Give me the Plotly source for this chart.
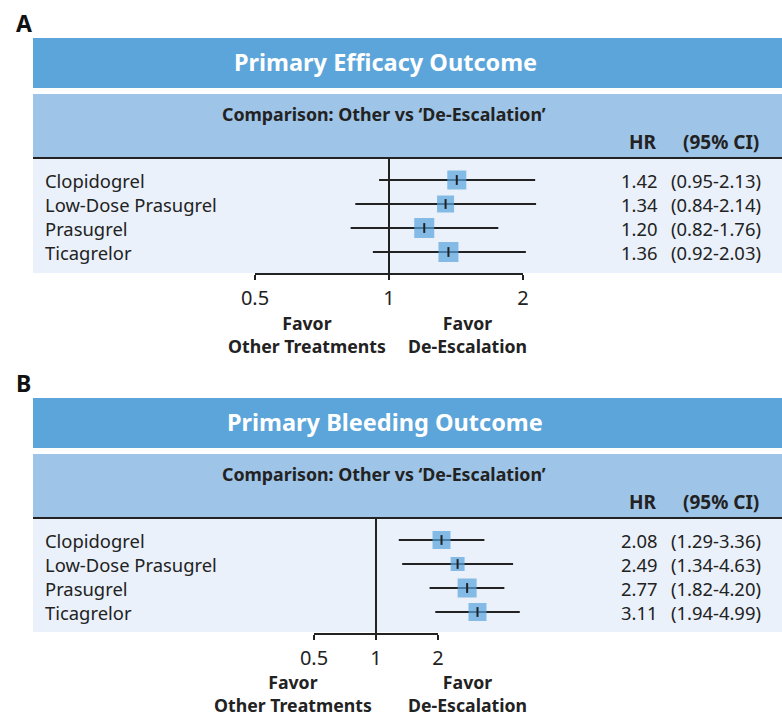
import math
import plotly.graph_objects as go

# ---------------- data ----------------
drugs = ["Clopidogrel", "Low-Dose Prasugrel", "Prasugrel", "Ticagrelor"]

eff_hr = [1.42, 1.34, 1.20, 1.36]
eff_lo = [0.95, 0.84, 0.82, 0.92]
eff_hi = [2.13, 2.14, 1.76, 2.03]

bleed_hr = [2.08, 2.49, 2.77, 3.11]
bleed_lo = [1.29, 1.34, 1.82, 1.94]
bleed_hi = [3.36, 4.63, 4.20, 4.99]

tick_vals = [0.5, 1, 2]
tick_text = ["0.5", "1", "2"]

panel_titles = ["Primary Efficacy Outcome", "Primary Bleeding Outcome"]
panel_letters = ["A", "B"]
comparison_text = "Comparison: Other vs \u2018De-Escalation\u2019"
favor_left = "Favor<br>Other Treatments"
favor_right = "Favor<br>De-Escalation"

# ---------------- style ----------------
W, H = 782, 717
FONT = "Noto Sans"
DARK = "#222222"
C_TITLE = "rgb(91,165,218)"
C_SUB = "rgb(158,196,231)"
C_BG = "rgb(234,241,250)"
C_SQ = "rgb(88,164,221)"

eff_sizes = [19, 17, 20, 20]
bleed_sizes = [18, 14, 19, 18]


def py(p):
    return 1 - p / H


def px(p):
    return p / W


panels = [
    dict(hr=eff_hr, lo=eff_lo, hi=eff_hi, sizes=eff_sizes, top=38,
         x1=389, x2=523, rows_top=158, axis_y=274, bg_bottom=273,
         favL=307, favR=467, fav_y=334, xa="x", ya="y"),
    dict(hr=bleed_hr, lo=bleed_lo, hi=bleed_hi, sizes=bleed_sizes, top=398,
         x1=376, x2=438, rows_top=518, axis_y=634, bg_bottom=632,
         favL=293, favR=467, fav_y=693, xa="x2", ya="y2"),
]

fig = go.Figure()
shapes = []
annotations = []
layout_axes = {}

for i, p in enumerate(panels):
    t = p["top"]
    # bands
    shapes.append(dict(type="rect", xref="paper", yref="paper", x0=px(33), x1=1,
                       y0=py(t), y1=py(t + 50), fillcolor=C_TITLE, line_width=0, layer="below"))
    shapes.append(dict(type="rect", xref="paper", yref="paper", x0=px(33), x1=1,
                       y0=py(t + 56), y1=py(p["rows_top"]), fillcolor=C_SUB, line_width=0, layer="below"))
    shapes.append(dict(type="rect", xref="paper", yref="paper", x0=px(33), x1=1,
                       y0=py(p["rows_top"]), y1=py(p["bg_bottom"]), fillcolor=C_BG, line_width=0, layer="below"))
    shapes.append(dict(type="line", xref="paper", yref="paper", x0=px(33), x1=1,
                       y0=py(p["rows_top"]), y1=py(p["rows_top"]), line=dict(color=DARK, width=2)))
    xa_ref = p["xa"]
    # reference line at HR = 1
    shapes.append(dict(type="line", xref=xa_ref, yref="paper", x0=1, x1=1,
                       y0=py(p["rows_top"]), y1=py(p["axis_y"] + 5), line=dict(color=DARK, width=2)))
    # axis line from 0.5 to 2
    shapes.append(dict(type="line", xref=xa_ref, yref="paper", x0=tick_vals[0], x1=tick_vals[-1],
                       y0=py(p["axis_y"]), y1=py(p["axis_y"]), line=dict(color=DARK, width=2)))

    # texts
    annotations.append(dict(text=f"<b>{panel_letters[i]}</b>", xref="paper", yref="paper",
                            x=px(14), y=py(t - 15), xanchor="left", yanchor="middle",
                            showarrow=False, font=dict(family=FONT, size=23, color="#111")))
    annotations.append(dict(text=f"<b>{panel_titles[i]}</b>", xref="paper", yref="paper",
                            x=px(385), y=py(t + 24), xanchor="center", yanchor="middle",
                            showarrow=False, font=dict(family=FONT, size=23.5, color="white")))
    annotations.append(dict(text=f"<b>{comparison_text}</b>", xref="paper", yref="paper",
                            x=px(384), y=py(t + 76), xanchor="center", yanchor="middle",
                            showarrow=False, font=dict(family=FONT, size=17.8, color=DARK)))
    annotations.append(dict(text="<b>HR</b>", xref="paper", yref="paper",
                            x=px(659), y=py(t + 104), xanchor="right", yanchor="middle",
                            showarrow=False, font=dict(family=FONT, size=19, color=DARK)))
    annotations.append(dict(text="<b>(95% CI)</b>", xref="paper", yref="paper",
                            x=px(681), y=py(t + 104), xanchor="left", yanchor="middle",
                            showarrow=False, font=dict(family=FONT, size=19, color=DARK)))
    for name, hr, lo, hi in zip(drugs, p["hr"], p["lo"], p["hi"]):
        annotations.append(dict(text=name, xref="paper", yref=p["ya"], x=px(44), y=name,
                                xanchor="left", yanchor="middle", showarrow=False, borderpad=0,
                                font=dict(family=FONT, size=18.4, color=DARK)))
        annotations.append(dict(text=f"{hr:.2f}", xref="paper", yref=p["ya"], x=px(659), y=name,
                                xanchor="right", yanchor="middle", showarrow=False, borderpad=0,
                                font=dict(family=FONT, size=18.4, color=DARK)))
        annotations.append(dict(text=f"({lo:.2f}-{hi:.2f})", xref="paper", yref=p["ya"], x=px(670), y=name,
                                xanchor="left", yanchor="middle", showarrow=False, borderpad=0,
                                font=dict(family=FONT, size=18.4, color=DARK)))
    annotations.append(dict(text=f"{'<b>'}{favor_left}</b>", xref="paper", yref="paper",
                            x=px(p["favL"]), y=py(p["fav_y"]), xanchor="center", yanchor="middle",
                            showarrow=False, borderpad=0, font=dict(family=FONT, size=17.7, color=DARK)))
    annotations.append(dict(text=f"<b>{favor_right}</b>", xref="paper", yref="paper",
                            x=px(p["favR"]), y=py(p["fav_y"]), xanchor="center", yanchor="middle",
                            showarrow=False, borderpad=0, font=dict(family=FONT, size=17.7, color=DARK)))

    # traces
    err_plus = [h - m for m, h in zip(p["hr"], p["hi"])]
    err_minus = [m - l for m, l in zip(p["hr"], p["lo"])]
    fig.add_trace(go.Scatter(
        x=p["hr"], y=drugs, mode="markers", xaxis=p["xa"], yaxis=p["ya"],
        marker=dict(symbol="square", size=p["sizes"], color=C_SQ, line=dict(width=0)),
        error_x=dict(type="data", array=err_plus, arrayminus=err_minus, symmetric=False,
                     color=DARK, thickness=2.2, width=0),
        showlegend=False, hoverinfo="skip", cliponaxis=False))
    fig.add_trace(go.Scatter(
        x=p["hr"], y=drugs, mode="markers", xaxis=p["xa"], yaxis=p["ya"],
        marker=dict(symbol="line-ns", size=7, line=dict(color=DARK, width=2)),
        showlegend=False, hoverinfo="skip", cliponaxis=False))

    # axes: full-width domain, log scale mapped so 1 and 2 land on target pixels
    ppd = (p["x2"] - p["x1"]) / math.log10(2)
    r0 = -p["x1"] / ppd
    r1 = (W - p["x1"]) / ppd
    xkey = "xaxis" if i == 0 else "xaxis2"
    ykey = "yaxis" if i == 0 else "yaxis2"
    layout_axes[xkey] = dict(type="log", domain=[0, 1], range=[r0, r1], anchor=p["ya"],
                             tickvals=tick_vals, ticktext=tick_text, ticks="outside",
                             ticklen=5, tickwidth=2, tickcolor=DARK, showgrid=False,
                             zeroline=False, showline=False, ticklabelstandoff=1,
                             tickfont=dict(family=FONT, size=20, color=DARK), fixedrange=True)
    n = len(drugs)
    layout_axes[ykey] = dict(type="category", categoryorder="array",
                             categoryarray=list(reversed(drugs)),
                             domain=[py(p["axis_y"]), py(p["rows_top"])],
                             range=[-22 / 24, (n - 1) + 22 / 24], anchor=p["xa"],
                             showgrid=False, zeroline=False, showline=False,
                             showticklabels=False, ticks="", fixedrange=True)

fig.update_layout(
    width=W, height=H, margin=dict(l=0, r=0, t=0, b=0),
    paper_bgcolor="white", plot_bgcolor="rgba(0,0,0,0)",
    shapes=shapes, annotations=annotations, showlegend=False,
    font=dict(family=FONT, color=DARK),
    **layout_axes,
)

fig.write_html("out.html", config={"displayModeBar": False, "staticPlot": True},
               post_script="document.body.style.margin='0px';document.body.style.overflow='hidden';")
